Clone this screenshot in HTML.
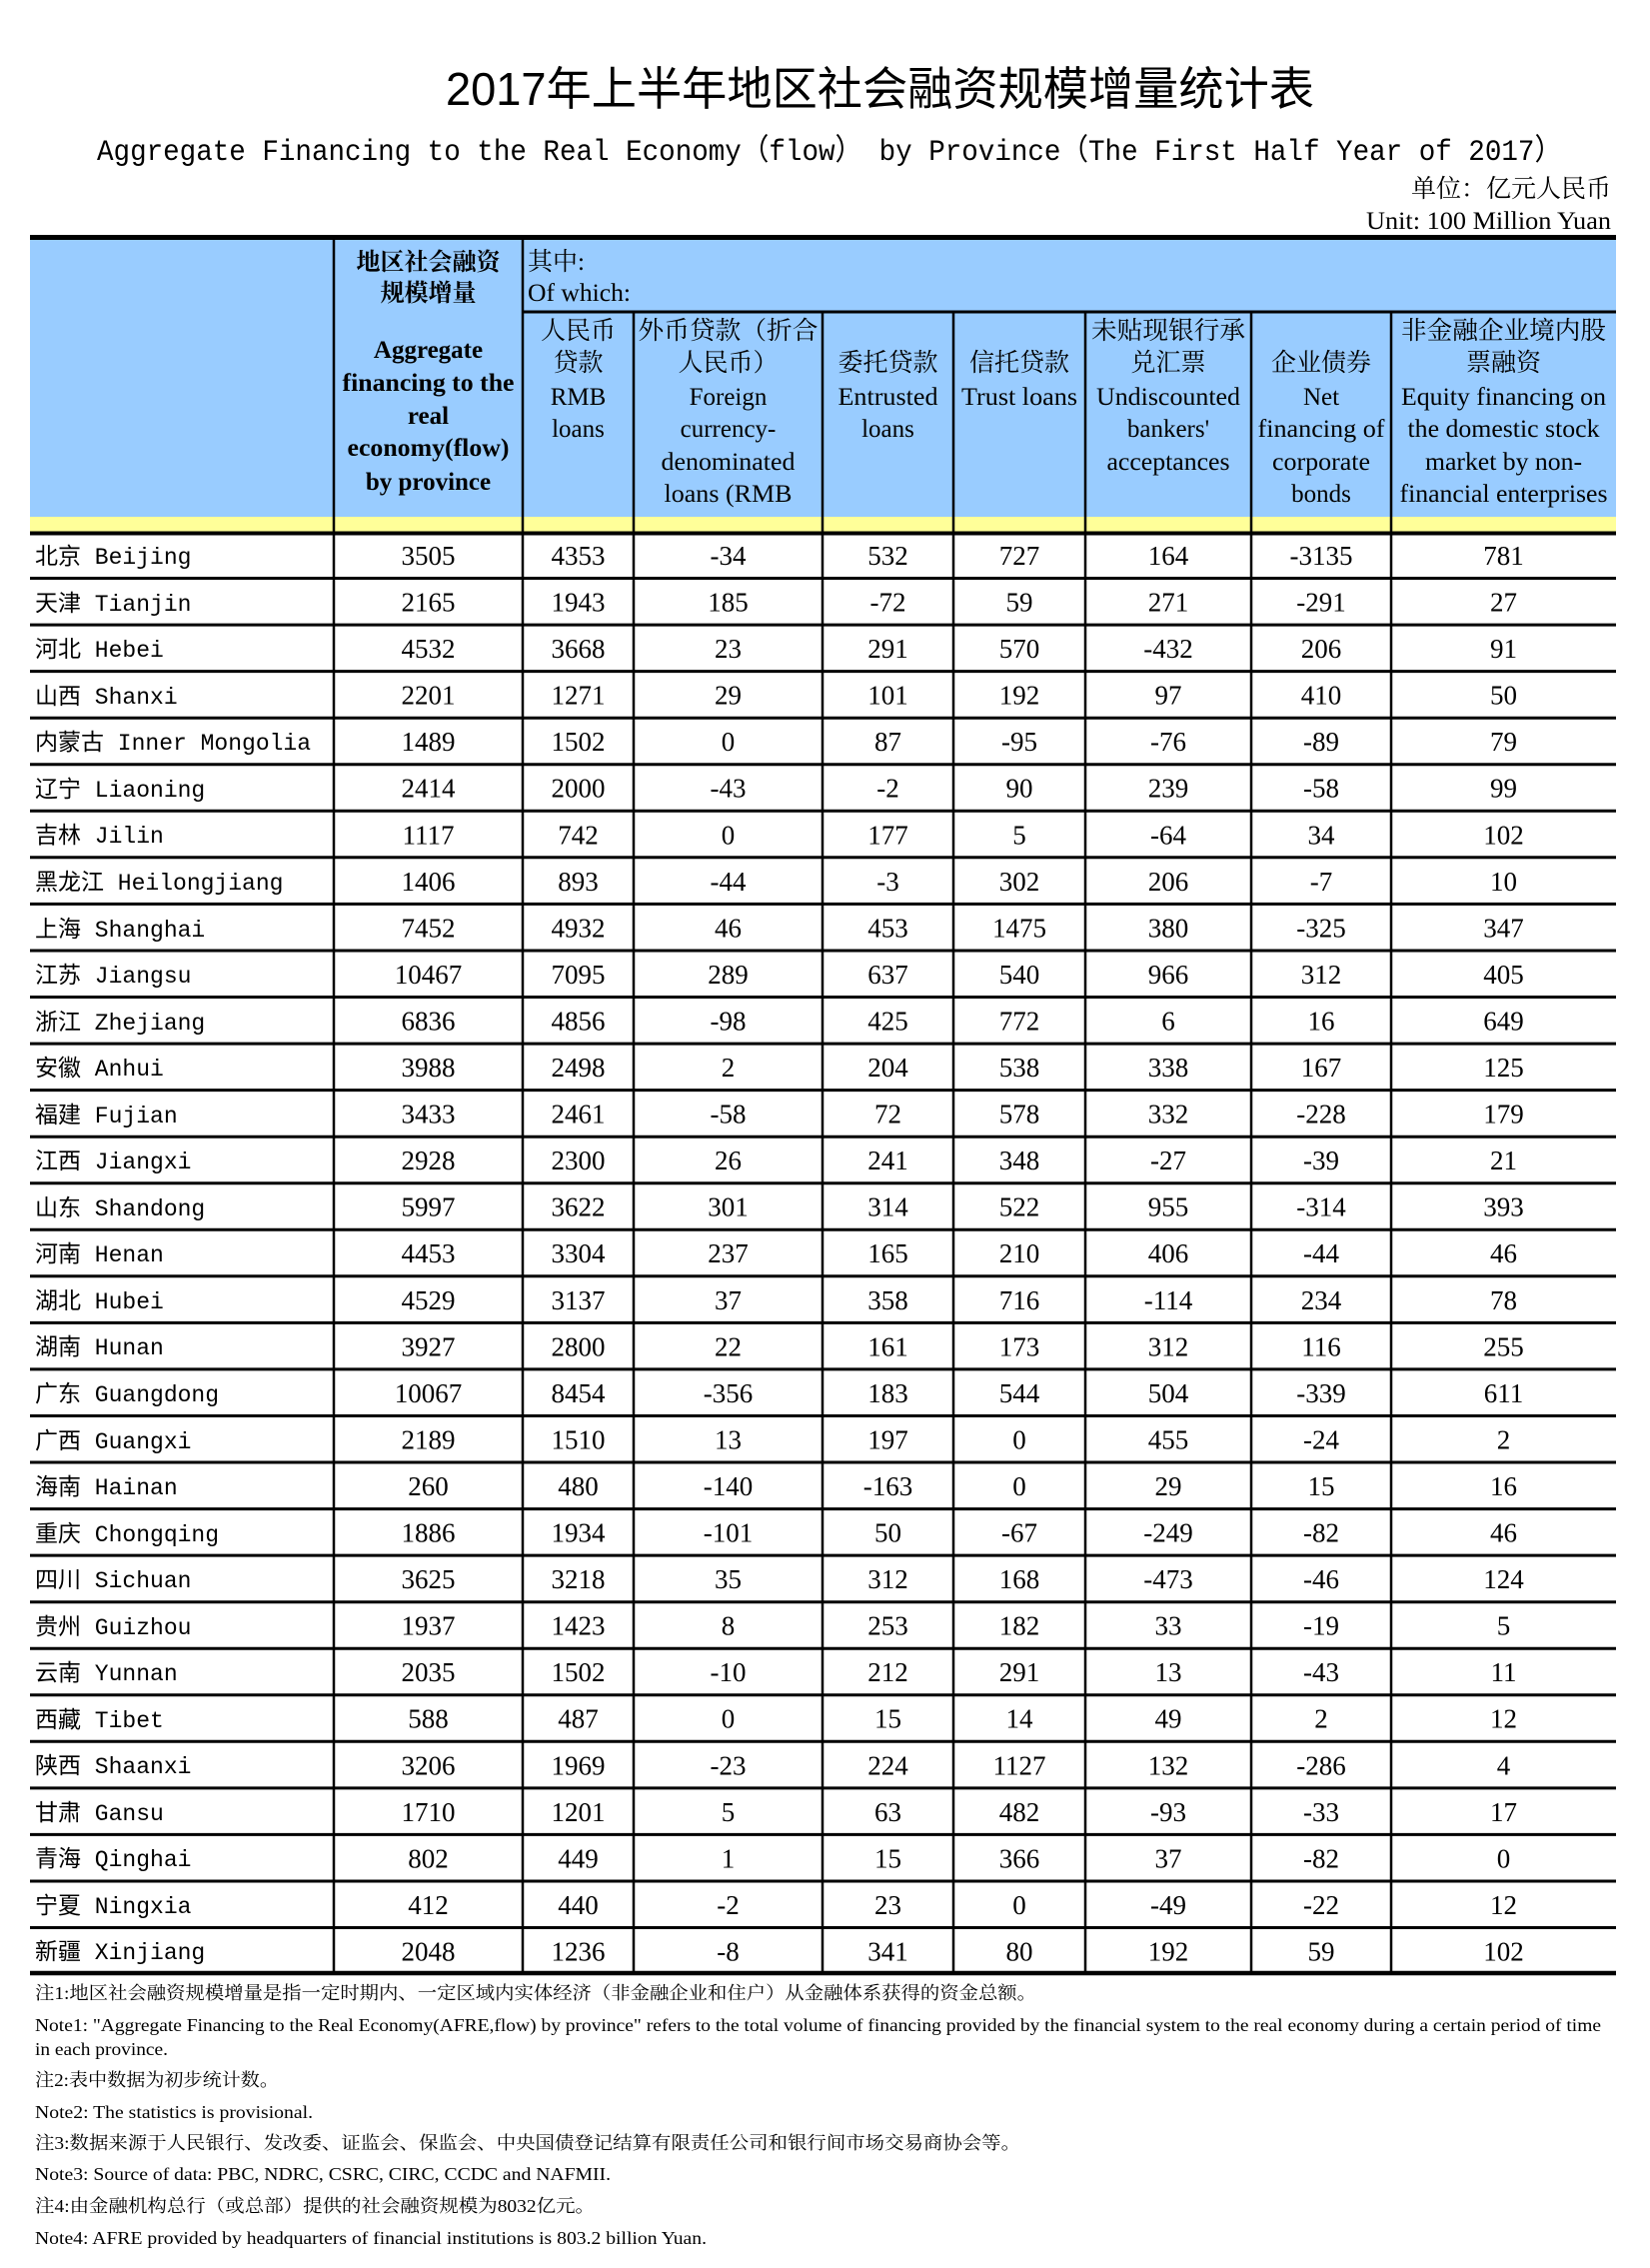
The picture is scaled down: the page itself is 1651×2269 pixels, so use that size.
<!DOCTYPE html>
<html><head><meta charset="utf-8"><style>
html,body{margin:0;padding:0;background:#fff;}
svg{display:block;}
.s{font-family:"Liberation Serif","Noto Serif CJK SC","Noto Sans CJK SC",serif;}
.m{font-family:"Liberation Mono","Noto Sans CJK SC",monospace;}
.ti{font-family:"Liberation Sans","Noto Sans CJK SC",sans-serif;}
.h{font-size:25px;text-anchor:middle;}
.n{font-size:27px;text-anchor:middle;font-family:"Liberation Serif",serif;}
.p{font-size:23px;font-family:"Liberation Mono","Noto Sans CJK SC",monospace;}
.t{font-size:18px;font-family:"Liberation Serif","Noto Serif CJK SC","Noto Sans CJK SC",serif;}
</style></head><body>
<svg width="1651" height="2269" xmlns="http://www.w3.org/2000/svg">
<rect width="1651" height="2269" fill="#fff"/>
<text x="446" y="105" font-size="46" class="ti" textLength="869" lengthAdjust="spacingAndGlyphs">2017年上半年地区社会融资规模增量统计表</text>
<text x="97" y="160" font-size="30" class="m" textLength="1466" lengthAdjust="spacingAndGlyphs">Aggregate Financing to the Real Economy（flow） by Province（The First Half Year of 2017）</text>
<text x="1612" y="197" font-size="25" class="s" text-anchor="end">单位：亿元人民币</text>
<text x="1612" y="229" font-size="25" class="s" text-anchor="end" textLength="245" lengthAdjust="spacingAndGlyphs">Unit: 100 Million Yuan</text>

<rect x="30" y="237" width="1587" height="281" fill="#99CCFF"/>
<rect x="30" y="517" width="1587" height="16" fill="#FFFF99"/>

<g class="s h" font-weight="bold">
<text x="428.5" y="270" font-size="24">地区社会融资</text>
<text x="428.5" y="301" font-size="24">规模增量</text>
<text x="428.5" y="358">Aggregate</text>
<text x="428.5" y="391" textLength="172" lengthAdjust="spacingAndGlyphs">financing to the</text>
<text x="428.5" y="424">real</text>
<text x="428.5" y="456" textLength="162" lengthAdjust="spacingAndGlyphs">economy(flow)</text>
<text x="428.5" y="490">by province</text>
</g>
<g class="s" font-size="25">
<text x="528" y="270">其中:</text>
<text x="528" y="301" textLength="103" lengthAdjust="spacingAndGlyphs">Of which:</text>
</g>
<g class="s h">
<text x="578.5" y="339">人民币</text>
<text x="578.5" y="371">贷款</text>
<text x="578.5" y="405">RMB</text>
<text x="578.5" y="437">loans</text>

<text x="728.5" y="339" textLength="180" lengthAdjust="spacingAndGlyphs">外币贷款（折合</text>
<text x="728.5" y="371">人民币）</text>
<text x="728.5" y="405">Foreign</text>
<text x="728.5" y="437">currency-</text>
<text x="728.5" y="470" textLength="134" lengthAdjust="spacingAndGlyphs">denominated</text>
<text x="728.5" y="502" textLength="128" lengthAdjust="spacingAndGlyphs">loans (RMB</text>

<text x="888.5" y="371">委托贷款</text>
<text x="888.5" y="405" textLength="100" lengthAdjust="spacingAndGlyphs">Entrusted</text>
<text x="888.5" y="437">loans</text>

<text x="1020" y="371">信托贷款</text>
<text x="1020" y="405" textLength="116" lengthAdjust="spacingAndGlyphs">Trust loans</text>

<text x="1169" y="339" textLength="154" lengthAdjust="spacingAndGlyphs">未贴现银行承</text>
<text x="1169" y="371">兑汇票</text>
<text x="1169" y="405" textLength="144" lengthAdjust="spacingAndGlyphs">Undiscounted</text>
<text x="1169" y="437">bankers'</text>
<text x="1169" y="470" textLength="123" lengthAdjust="spacingAndGlyphs">acceptances</text>

<text x="1322" y="371">企业债券</text>
<text x="1322" y="405">Net</text>
<text x="1322" y="437" textLength="127" lengthAdjust="spacingAndGlyphs">financing of</text>
<text x="1322" y="470" textLength="98" lengthAdjust="spacingAndGlyphs">corporate</text>
<text x="1322" y="502">bonds</text>

<text x="1504.5" y="339" textLength="205" lengthAdjust="spacingAndGlyphs">非金融企业境内股</text>
<text x="1504.5" y="371">票融资</text>
<text x="1504.5" y="405" textLength="205" lengthAdjust="spacingAndGlyphs">Equity financing on</text>
<text x="1504.5" y="437" textLength="192" lengthAdjust="spacingAndGlyphs">the domestic stock</text>
<text x="1504.5" y="470" textLength="157" lengthAdjust="spacingAndGlyphs">market by non-</text>
<text x="1504.5" y="502" textLength="208" lengthAdjust="spacingAndGlyphs">financial enterprises</text>
</g>

<g stroke="#000" fill="none">
<line x1="30" y1="237.5" x2="1617" y2="237.5" stroke-width="5"/>
<line x1="523" y1="312" x2="1617" y2="312" stroke-width="3"/>
<line x1="30" y1="533.5" x2="1617" y2="533.5" stroke-width="4"/>
<line x1="334" y1="237" x2="334" y2="1974" stroke-width="2.5"/>
<line x1="523" y1="237" x2="523" y2="1974" stroke-width="2.5"/>
<line x1="634" y1="312" x2="634" y2="1974" stroke-width="2.5"/>
<line x1="823" y1="312" x2="823" y2="1974" stroke-width="2.5"/>
<line x1="954" y1="312" x2="954" y2="1974" stroke-width="2.5"/>
<line x1="1086" y1="312" x2="1086" y2="1974" stroke-width="2.5"/>
<line x1="1252" y1="312" x2="1252" y2="1974" stroke-width="2.5"/>
<line x1="1392" y1="312" x2="1392" y2="1974" stroke-width="2.5"/>
<g stroke-width="3">
<line x1="30" y1="578.5" x2="1617" y2="578.5"/>
<line x1="30" y1="625.1" x2="1617" y2="625.1"/>
<line x1="30" y1="671.6" x2="1617" y2="671.6"/>
<line x1="30" y1="718.2" x2="1617" y2="718.2"/>
<line x1="30" y1="764.7" x2="1617" y2="764.7"/>
<line x1="30" y1="811.3" x2="1617" y2="811.3"/>
<line x1="30" y1="857.8" x2="1617" y2="857.8"/>
<line x1="30" y1="904.4" x2="1617" y2="904.4"/>
<line x1="30" y1="951.0" x2="1617" y2="951.0"/>
<line x1="30" y1="997.5" x2="1617" y2="997.5"/>
<line x1="30" y1="1044.1" x2="1617" y2="1044.1"/>
<line x1="30" y1="1090.6" x2="1617" y2="1090.6"/>
<line x1="30" y1="1137.2" x2="1617" y2="1137.2"/>
<line x1="30" y1="1183.7" x2="1617" y2="1183.7"/>
<line x1="30" y1="1230.3" x2="1617" y2="1230.3"/>
<line x1="30" y1="1276.8" x2="1617" y2="1276.8"/>
<line x1="30" y1="1323.4" x2="1617" y2="1323.4"/>
<line x1="30" y1="1369.9" x2="1617" y2="1369.9"/>
<line x1="30" y1="1416.5" x2="1617" y2="1416.5"/>
<line x1="30" y1="1463.0" x2="1617" y2="1463.0"/>
<line x1="30" y1="1509.6" x2="1617" y2="1509.6"/>
<line x1="30" y1="1556.1" x2="1617" y2="1556.1"/>
<line x1="30" y1="1602.7" x2="1617" y2="1602.7"/>
<line x1="30" y1="1649.2" x2="1617" y2="1649.2"/>
<line x1="30" y1="1695.8" x2="1617" y2="1695.8"/>
<line x1="30" y1="1742.3" x2="1617" y2="1742.3"/>
<line x1="30" y1="1788.9" x2="1617" y2="1788.9"/>
<line x1="30" y1="1835.4" x2="1617" y2="1835.4"/>
<line x1="30" y1="1882.0" x2="1617" y2="1882.0"/>
<line x1="30" y1="1928.5" x2="1617" y2="1928.5"/>
</g>
<line x1="30" y1="1974" x2="1617" y2="1974" stroke-width="4.5"/>
</g>

<g>
<text class="p" x="35" y="564">北京 Beijing</text>
<text class="p" x="35" y="611">天津 Tianjin</text>
<text class="p" x="35" y="657">河北 Hebei</text>
<text class="p" x="35" y="704">山西 Shanxi</text>
<text class="p" x="35" y="750">内蒙古 Inner Mongolia</text>
<text class="p" x="35" y="797">辽宁 Liaoning</text>
<text class="p" x="35" y="843">吉林 Jilin</text>
<text class="p" x="35" y="890">黑龙江 Heilongjiang</text>
<text class="p" x="35" y="937">上海 Shanghai</text>
<text class="p" x="35" y="983">江苏 Jiangsu</text>
<text class="p" x="35" y="1030">浙江 Zhejiang</text>
<text class="p" x="35" y="1076">安徽 Anhui</text>
<text class="p" x="35" y="1123">福建 Fujian</text>
<text class="p" x="35" y="1169">江西 Jiangxi</text>
<text class="p" x="35" y="1216">山东 Shandong</text>
<text class="p" x="35" y="1262">河南 Henan</text>
<text class="p" x="35" y="1309">湖北 Hubei</text>
<text class="p" x="35" y="1355">湖南 Hunan</text>
<text class="p" x="35" y="1402">广东 Guangdong</text>
<text class="p" x="35" y="1449">广西 Guangxi</text>
<text class="p" x="35" y="1495">海南 Hainan</text>
<text class="p" x="35" y="1542">重庆 Chongqing</text>
<text class="p" x="35" y="1588">四川 Sichuan</text>
<text class="p" x="35" y="1635">贵州 Guizhou</text>
<text class="p" x="35" y="1681">云南 Yunnan</text>
<text class="p" x="35" y="1728">西藏 Tibet</text>
<text class="p" x="35" y="1774">陕西 Shaanxi</text>
<text class="p" x="35" y="1821">甘肃 Gansu</text>
<text class="p" x="35" y="1867">青海 Qinghai</text>
<text class="p" x="35" y="1914">宁夏 Ningxia</text>
<text class="p" x="35" y="1960">新疆 Xinjiang</text>
</g>
<g class="n">
<g transform="translate(0,565)"><text x="428.5">3505</text><text x="578.5">4353</text><text x="728.5">-34</text><text x="888.5">532</text><text x="1020">727</text><text x="1169">164</text><text x="1322">-3135</text><text x="1504.5">781</text></g>
<g transform="translate(0,611.5)"><text x="428.5">2165</text><text x="578.5">1943</text><text x="728.5">185</text><text x="888.5">-72</text><text x="1020">59</text><text x="1169">271</text><text x="1322">-291</text><text x="1504.5">27</text></g>
<g transform="translate(0,658.1)"><text x="428.5">4532</text><text x="578.5">3668</text><text x="728.5">23</text><text x="888.5">291</text><text x="1020">570</text><text x="1169">-432</text><text x="1322">206</text><text x="1504.5">91</text></g>
<g transform="translate(0,704.6)"><text x="428.5">2201</text><text x="578.5">1271</text><text x="728.5">29</text><text x="888.5">101</text><text x="1020">192</text><text x="1169">97</text><text x="1322">410</text><text x="1504.5">50</text></g>
<g transform="translate(0,751.2)"><text x="428.5">1489</text><text x="578.5">1502</text><text x="728.5">0</text><text x="888.5">87</text><text x="1020">-95</text><text x="1169">-76</text><text x="1322">-89</text><text x="1504.5">79</text></g>
<g transform="translate(0,797.7)"><text x="428.5">2414</text><text x="578.5">2000</text><text x="728.5">-43</text><text x="888.5">-2</text><text x="1020">90</text><text x="1169">239</text><text x="1322">-58</text><text x="1504.5">99</text></g>
<g transform="translate(0,844.3)"><text x="428.5">1117</text><text x="578.5">742</text><text x="728.5">0</text><text x="888.5">177</text><text x="1020">5</text><text x="1169">-64</text><text x="1322">34</text><text x="1504.5">102</text></g>
<g transform="translate(0,890.8)"><text x="428.5">1406</text><text x="578.5">893</text><text x="728.5">-44</text><text x="888.5">-3</text><text x="1020">302</text><text x="1169">206</text><text x="1322">-7</text><text x="1504.5">10</text></g>
<g transform="translate(0,937.4)"><text x="428.5">7452</text><text x="578.5">4932</text><text x="728.5">46</text><text x="888.5">453</text><text x="1020">1475</text><text x="1169">380</text><text x="1322">-325</text><text x="1504.5">347</text></g>
<g transform="translate(0,983.9)"><text x="428.5">10467</text><text x="578.5">7095</text><text x="728.5">289</text><text x="888.5">637</text><text x="1020">540</text><text x="1169">966</text><text x="1322">312</text><text x="1504.5">405</text></g>
<g transform="translate(0,1030.5)"><text x="428.5">6836</text><text x="578.5">4856</text><text x="728.5">-98</text><text x="888.5">425</text><text x="1020">772</text><text x="1169">6</text><text x="1322">16</text><text x="1504.5">649</text></g>
<g transform="translate(0,1077.0)"><text x="428.5">3988</text><text x="578.5">2498</text><text x="728.5">2</text><text x="888.5">204</text><text x="1020">538</text><text x="1169">338</text><text x="1322">167</text><text x="1504.5">125</text></g>
<g transform="translate(0,1123.6)"><text x="428.5">3433</text><text x="578.5">2461</text><text x="728.5">-58</text><text x="888.5">72</text><text x="1020">578</text><text x="1169">332</text><text x="1322">-228</text><text x="1504.5">179</text></g>
<g transform="translate(0,1170.1)"><text x="428.5">2928</text><text x="578.5">2300</text><text x="728.5">26</text><text x="888.5">241</text><text x="1020">348</text><text x="1169">-27</text><text x="1322">-39</text><text x="1504.5">21</text></g>
<g transform="translate(0,1216.7)"><text x="428.5">5997</text><text x="578.5">3622</text><text x="728.5">301</text><text x="888.5">314</text><text x="1020">522</text><text x="1169">955</text><text x="1322">-314</text><text x="1504.5">393</text></g>
<g transform="translate(0,1263.2)"><text x="428.5">4453</text><text x="578.5">3304</text><text x="728.5">237</text><text x="888.5">165</text><text x="1020">210</text><text x="1169">406</text><text x="1322">-44</text><text x="1504.5">46</text></g>
<g transform="translate(0,1309.8)"><text x="428.5">4529</text><text x="578.5">3137</text><text x="728.5">37</text><text x="888.5">358</text><text x="1020">716</text><text x="1169">-114</text><text x="1322">234</text><text x="1504.5">78</text></g>
<g transform="translate(0,1356.3)"><text x="428.5">3927</text><text x="578.5">2800</text><text x="728.5">22</text><text x="888.5">161</text><text x="1020">173</text><text x="1169">312</text><text x="1322">116</text><text x="1504.5">255</text></g>
<g transform="translate(0,1402.9)"><text x="428.5">10067</text><text x="578.5">8454</text><text x="728.5">-356</text><text x="888.5">183</text><text x="1020">544</text><text x="1169">504</text><text x="1322">-339</text><text x="1504.5">611</text></g>
<g transform="translate(0,1449.4)"><text x="428.5">2189</text><text x="578.5">1510</text><text x="728.5">13</text><text x="888.5">197</text><text x="1020">0</text><text x="1169">455</text><text x="1322">-24</text><text x="1504.5">2</text></g>
<g transform="translate(0,1496.0)"><text x="428.5">260</text><text x="578.5">480</text><text x="728.5">-140</text><text x="888.5">-163</text><text x="1020">0</text><text x="1169">29</text><text x="1322">15</text><text x="1504.5">16</text></g>
<g transform="translate(0,1542.5)"><text x="428.5">1886</text><text x="578.5">1934</text><text x="728.5">-101</text><text x="888.5">50</text><text x="1020">-67</text><text x="1169">-249</text><text x="1322">-82</text><text x="1504.5">46</text></g>
<g transform="translate(0,1589.1)"><text x="428.5">3625</text><text x="578.5">3218</text><text x="728.5">35</text><text x="888.5">312</text><text x="1020">168</text><text x="1169">-473</text><text x="1322">-46</text><text x="1504.5">124</text></g>
<g transform="translate(0,1635.6)"><text x="428.5">1937</text><text x="578.5">1423</text><text x="728.5">8</text><text x="888.5">253</text><text x="1020">182</text><text x="1169">33</text><text x="1322">-19</text><text x="1504.5">5</text></g>
<g transform="translate(0,1682.2)"><text x="428.5">2035</text><text x="578.5">1502</text><text x="728.5">-10</text><text x="888.5">212</text><text x="1020">291</text><text x="1169">13</text><text x="1322">-43</text><text x="1504.5">11</text></g>
<g transform="translate(0,1728.7)"><text x="428.5">588</text><text x="578.5">487</text><text x="728.5">0</text><text x="888.5">15</text><text x="1020">14</text><text x="1169">49</text><text x="1322">2</text><text x="1504.5">12</text></g>
<g transform="translate(0,1775.3)"><text x="428.5">3206</text><text x="578.5">1969</text><text x="728.5">-23</text><text x="888.5">224</text><text x="1020">1127</text><text x="1169">132</text><text x="1322">-286</text><text x="1504.5">4</text></g>
<g transform="translate(0,1821.8)"><text x="428.5">1710</text><text x="578.5">1201</text><text x="728.5">5</text><text x="888.5">63</text><text x="1020">482</text><text x="1169">-93</text><text x="1322">-33</text><text x="1504.5">17</text></g>
<g transform="translate(0,1868.4)"><text x="428.5">802</text><text x="578.5">449</text><text x="728.5">1</text><text x="888.5">15</text><text x="1020">366</text><text x="1169">37</text><text x="1322">-82</text><text x="1504.5">0</text></g>
<g transform="translate(0,1914.9)"><text x="428.5">412</text><text x="578.5">440</text><text x="728.5">-2</text><text x="888.5">23</text><text x="1020">0</text><text x="1169">-49</text><text x="1322">-22</text><text x="1504.5">12</text></g>
<g transform="translate(0,1961.5)"><text x="428.5">2048</text><text x="578.5">1236</text><text x="728.5">-8</text><text x="888.5">341</text><text x="1020">80</text><text x="1169">192</text><text x="1322">59</text><text x="1504.5">102</text></g>
</g>

<g class="t">
<text x="35" y="2000" textLength="1002" lengthAdjust="spacingAndGlyphs">注1:地区社会融资规模增量是指一定时期内、一定区域内实体经济（非金融企业和住户）从金融体系获得的资金总额。</text>
<text x="35" y="2032" textLength="1567" lengthAdjust="spacingAndGlyphs">Note1: "Aggregate Financing to the Real Economy(AFRE,flow) by province" refers to the total volume of financing provided by the financial system to the real economy during a certain period of time</text>
<text x="35" y="2056" textLength="133" lengthAdjust="spacingAndGlyphs">in each province.</text>
<text x="35" y="2087" textLength="244" lengthAdjust="spacingAndGlyphs">注2:表中数据为初步统计数。</text>
<text x="35" y="2119" textLength="278" lengthAdjust="spacingAndGlyphs">Note2: The statistics is provisional.</text>
<text x="35" y="2150" textLength="986" lengthAdjust="spacingAndGlyphs">注3:数据来源于人民银行、发改委、证监会、保监会、中央国债登记结算有限责任公司和银行间市场交易商协会等。</text>
<text x="35" y="2181" textLength="576" lengthAdjust="spacingAndGlyphs">Note3: Source of data: PBC, NDRC, CSRC, CIRC, CCDC and NAFMII.</text>
<text x="35" y="2213" textLength="560" lengthAdjust="spacingAndGlyphs">注4:由金融机构总行（或总部）提供的社会融资规模为8032亿元。</text>
<text x="35" y="2245" textLength="672" lengthAdjust="spacingAndGlyphs">Note4: AFRE provided by headquarters of financial institutions is 803.2 billion Yuan.</text>
</g>
</svg>
</body></html>
